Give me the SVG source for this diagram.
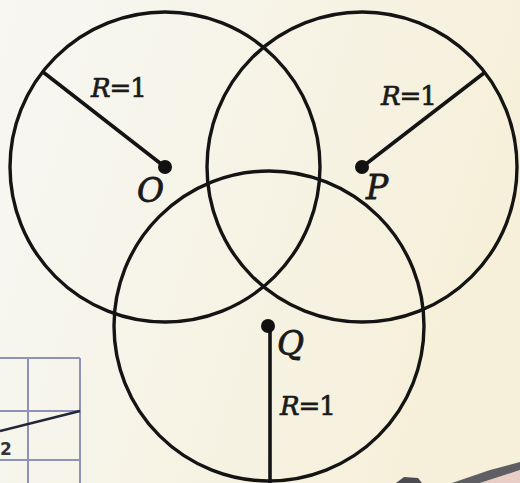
<svg xmlns="http://www.w3.org/2000/svg" width="520" height="483" viewBox="0 0 520 483">
  <defs>
    <linearGradient id="bg" x1="0" y1="0" x2="1" y2="0.3">
      <stop offset="0" stop-color="#f7f7f3"/>
      <stop offset="1" stop-color="#f6f0da"/>
    </linearGradient>
  </defs>
  <style>
    .circ { fill: none; stroke: #141414; stroke-width: 3.4; }
    .rad { stroke: #141414; stroke-width: 3.6; stroke-linecap: round; }
    .dot { fill: #111; }
    .lbl { font-family: "DejaVu Serif", "Liberation Serif", serif; font-style: italic; font-size: 33px; fill: #1a1a1a; stroke: #1a1a1a; stroke-width: 0.8; }
    .rl { font-family: "DejaVu Serif", "Liberation Serif", serif; font-size: 26px; fill: #1a1a1a; stroke: #1a1a1a; stroke-width: 0.7; letter-spacing: -1px; }
    .grid { stroke: #8f92b8; stroke-width: 2; fill: none; }
  </style>
  <rect width="520" height="483" fill="url(#bg)"/>

  <g id="grid">
    <line class="grid" x1="0" y1="358" x2="80" y2="358"/>
    <line class="grid" x1="0" y1="411" x2="80" y2="411"/>
    <line class="grid" x1="0" y1="460" x2="80" y2="460"/>
    <line class="grid" x1="28" y1="358" x2="28" y2="483"/>
    <line class="grid" x1="80" y1="358" x2="80" y2="483"/>
    <line x1="0" y1="431" x2="80" y2="411" stroke="#23263a" stroke-width="2.5"/>
    <text x="0" y="455" font-family="DejaVu Sans, sans-serif" font-size="17" font-weight="bold" fill="#333">2</text>
  </g>

  <g id="circle-O">
    <circle class="circ" cx="165" cy="167" r="155"/>
    <line class="rad" x1="165" y1="167" x2="43" y2="72"/>
    <circle class="dot" cx="165" cy="167" r="7"/>
    <text class="lbl" x="137" y="202">O</text>
    <text class="rl" x="91" y="97"><tspan font-style="italic">R</tspan>=1</text>
  </g>

  <g id="circle-P">
    <circle class="circ" cx="362" cy="167" r="155"/>
    <line class="rad" x1="362" y1="167" x2="484" y2="73"/>
    <circle class="dot" cx="362" cy="167" r="7"/>
    <text class="lbl" x="366" y="199">P</text>
    <text class="rl" x="381" y="105"><tspan font-style="italic">R</tspan>=1</text>
  </g>

  <g id="circle-Q">
    <circle class="circ" cx="269" cy="326" r="155"/>
    <line class="rad" x1="270" y1="326" x2="270" y2="485"/>
    <circle class="dot" cx="268" cy="326" r="7"/>
    <text class="lbl" x="277" y="355">Q</text>
    <text class="rl" x="280" y="415"><tspan font-style="italic">R</tspan>=1</text>
  </g>

  <g id="pen">
    <path d="M396 483 L404 477 L418 478 L422 483 Z" fill="#2e2e36" opacity="0.85"/>
    <path d="M452 483 L490 470 L520 462 L520 470 L480 483 Z" fill="#3a3a44" opacity="0.8"/>
    <path d="M480 483 L520 470 L520 483 Z" fill="#d7a3ad" opacity="0.45"/>
  </g>
</svg>
